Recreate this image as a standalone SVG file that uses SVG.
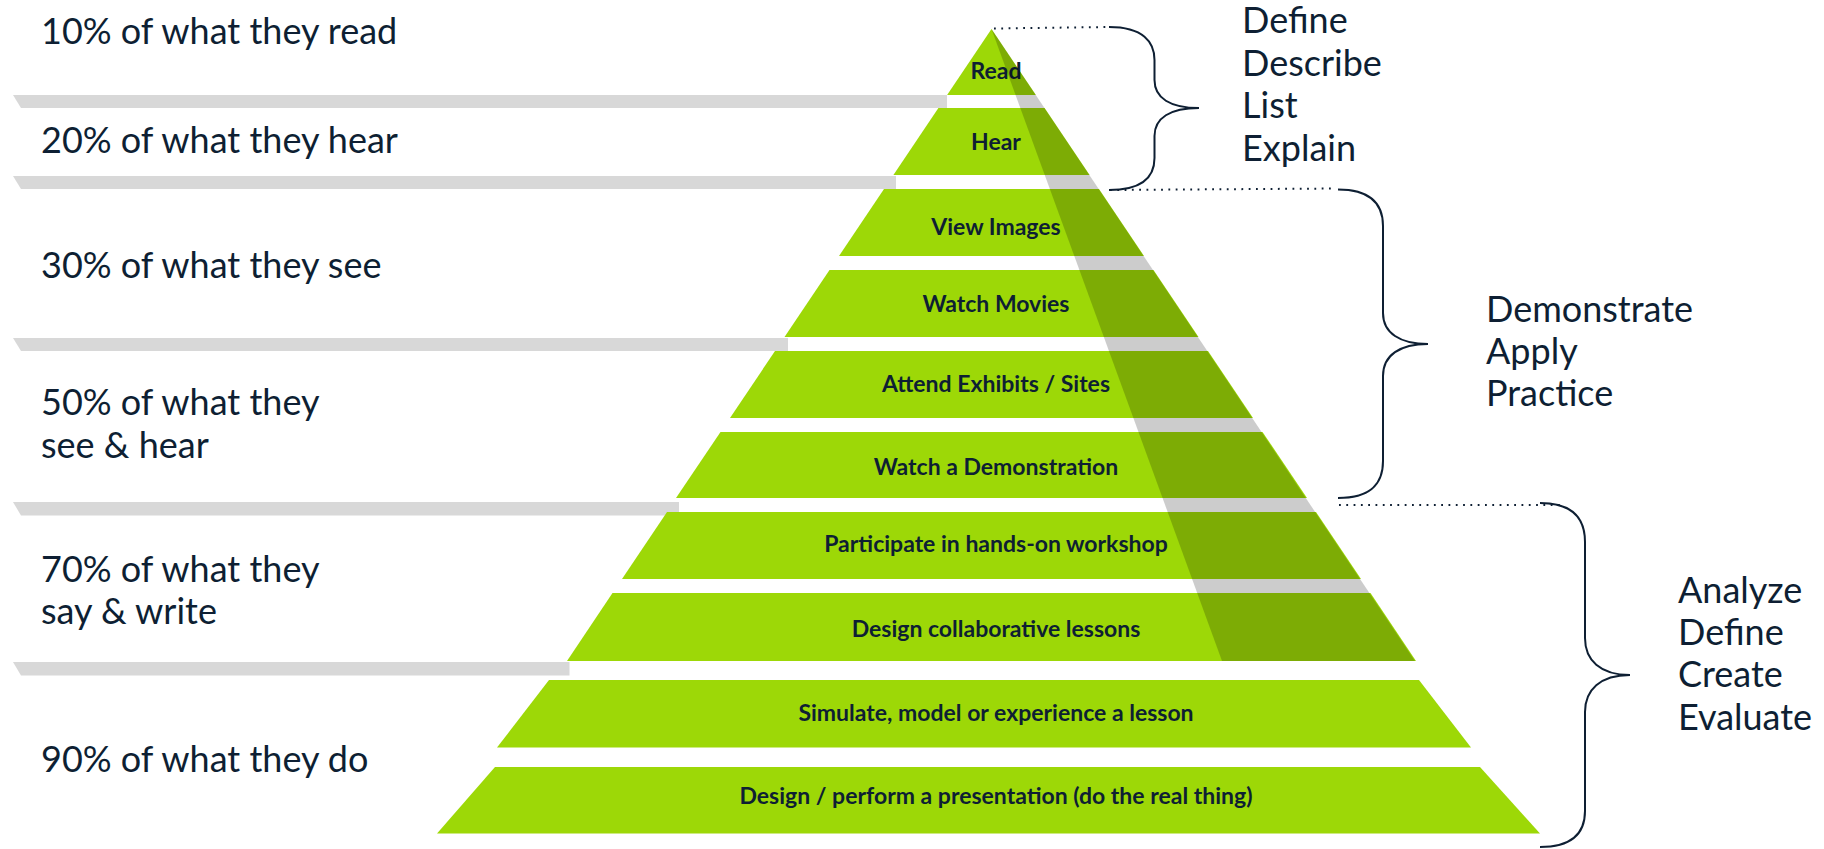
<svg xmlns="http://www.w3.org/2000/svg" width="1824" height="849" viewBox="0 0 1824 849">
<style>
.tier{fill:#9dd807}
.bar{fill:#d8d8d8}
.tl{font-family:Lato,"Noto Sans",sans-serif;font-weight:700;font-size:23px;fill:#0e1f33;text-anchor:middle}
.lt{font-family:Lato,"Noto Sans",sans-serif;font-size:36px;fill:#0e1f33}
.rt{font-family:Lato,"Noto Sans",sans-serif;font-size:36px;fill:#0e1f33}
.brace{fill:none;stroke:#0e1f33;stroke-width:2}
.dot{fill:none;stroke:#0e1f33;stroke-width:2;stroke-dasharray:1.8 5.5}
</style>
<rect width="1824" height="849" fill="#ffffff"/>
<g id="bars">
<polygon class="bar" points="13,95 947,95 947,108 21,108"/>
<polygon class="bar" points="13,176 896,176 896,189 21,189"/>
<polygon class="bar" points="13,338 788,338 788,351 21,351"/>
<polygon class="bar" points="13,502 679,502 679,515.5 21,515.5"/>
<polygon class="bar" points="13,662 569.5,662 569.5,675.5 21,675.5"/>
</g>
<g id="tier-read"><polygon class="tier" points="991.5,29 1035.9,95 947.1,95"/><text class="tl" x="996" y="79">Read</text></g>
<g id="tier-hear"><polygon class="tier" points="938.4,108 1044.6,108 1089.6,175 893.4,175"/><text class="tl" x="996" y="150">Hear</text></g>
<g id="tier-view"><polygon class="tier" points="884,189 1099,189 1144,256 839,256"/><text class="tl" x="996" y="235">View Images</text></g>
<g id="tier-movies"><polygon class="tier" points="829.5,270 1153.5,270 1198.5,337 784.5,337"/><text class="tl" x="996" y="312">Watch Movies</text></g>
<g id="tier-exhibits"><polygon class="tier" points="775,351 1208,351 1253,418 730,418"/><text class="tl" x="996" y="392">Attend Exhibits / Sites</text></g>
<g id="tier-demo"><polygon class="tier" points="720.5,432 1262.5,432 1307,498 676,498"/><text class="tl" x="996" y="475">Watch a Demonstration</text></g>
<g id="tier-workshop"><polygon class="tier" points="667,512 1316,512 1361,579 622,579"/><text class="tl" x="996" y="552">Participate in hands-on workshop</text></g>
<g id="tier-collab"><polygon class="tier" points="612.5,593 1370.5,593 1416,661 567,661"/><text class="tl" x="996" y="637">Design collaborative lessons</text></g>
<g id="shade"><polygon points="991.5,29 1222,661 1415,661" fill="#000" fill-opacity="0.2"/></g>
<g id="tier-simulate"><polygon class="tier" points="549,680 1419,680 1471,747.5 497,747.5"/><text class="tl" x="996" y="721">Simulate, model or experience a lesson</text></g>
<g id="tier-perform"><polygon class="tier" points="495,767 1480,767 1540,833.5 437,833.5"/><text class="tl" x="996" y="804">Design / perform a presentation (do the real thing)</text></g>
<g id="left-labels">
<text class="lt" x="41" y="44">10% of what they read</text>
<text class="lt" x="41" y="153">20% of what they hear</text>
<text class="lt" x="41" y="278">30% of what they see</text>
<text class="lt" x="41" y="415">50% of what they</text>
<text class="lt" x="41" y="458">see &amp; hear</text>
<text class="lt" x="41" y="582">70% of what they</text>
<text class="lt" x="41" y="624">say &amp; write</text>
<text class="lt" x="41" y="772">90% of what they do</text>
</g>
<g id="connectors">
<path class="dot" d="M994,28.5 L1109,27"/>
<path class="dot" d="M1110,190 L1336,188.5"/>
<path class="dot" d="M1339,505 L1563,505"/>
<path class="brace" d="M1109,27 C1143,27 1154.5,42 1154.5,60 L1154.5,80 C1154.5,98 1170,108 1199,108 C1170,108 1154.5,118 1154.5,136 L1154.5,158 C1154.5,177 1143,190 1109,190"/>
<path class="brace" d="M1338,189.5 C1372,189.5 1383,205 1383,226 L1383,313 C1383,333 1400,344 1428,344 C1400,344 1383,355 1383,376 L1383,461 C1383,483 1372,498 1338,498"/>
<path class="brace" d="M1540,503 C1574,503 1585,520 1585,542 L1585,638 C1585,660 1600,675 1630,675 C1600,675 1585,690 1585,712 L1585,811 C1585,832 1574,847 1540,847"/>
</g>
<g id="outcomes-1">
<text class="rt" x="1242" y="33">Define</text>
<text class="rt" x="1242" y="76">Describe</text>
<text class="rt" x="1242" y="118">List</text>
<text class="rt" x="1242" y="161">Explain</text>
</g>
<g id="outcomes-2">
<text class="rt" x="1486" y="322">Demonstrate</text>
<text class="rt" x="1486" y="364">Apply</text>
<text class="rt" x="1486" y="406">Practice</text>
</g>
<g id="outcomes-3">
<text class="rt" x="1678" y="603">Analyze</text>
<text class="rt" x="1678" y="645">Define</text>
<text class="rt" x="1678" y="687">Create</text>
<text class="rt" x="1678" y="730">Evaluate</text>
</g>
</svg>
